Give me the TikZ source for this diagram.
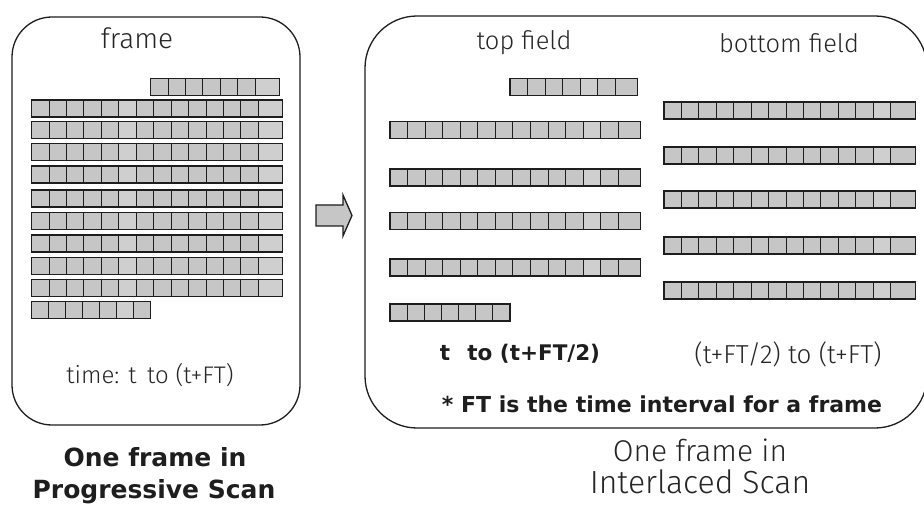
\documentclass[tikz,border=0pt]{standalone}
\usepackage{fontspec}
\setmainfont{DejaVu Sans}
\IfFontExistsTF{Fira Sans Light}
  {\newfontfamily\thinfont{Fira Sans Light}}
  {\newfontfamily\thinfont{Fira Sans}}

\definecolor{cellgray}{HTML}{C6C6C6}
\definecolor{plaingray}{HTML}{CFCFCF}
\definecolor{inkgray}{HTML}{1E1E1E}
\definecolor{thingray}{HTML}{262626}

\tikzset{
  cellbox/.style={draw=inkgray, line width=1pt, fill=cellgray},
  rowframe/.style={draw=inkgray, line width=1.4pt},
  framebox/.style={draw=inkgray, line width=1.3pt},
  thinlabel/.style={inner sep=0pt, text=thingray, font=\thinfont},
  boldlabel/.style={inner sep=0pt, text=inkgray, font=\bfseries},
  blockarrow/.style={draw=inkgray, line width=1.3pt, fill=cellgray, line join=miter},
}

% one row of scan-line cells:
% #1 left x, #2 cell width, #3 number of cells, #4 width of the last cell,
% #5 top y, #6 list of plain cells (0 for none)
\newcommand\cellrow[6]{%
  \foreach \k in {1,...,#3}{%
    \pgfmathsetmacro\xa{#1+(\k-1)*#2}%
    \pgfmathsetmacro\xb{\xa+(\k==#3 ? #4 : #2)}%
    \draw[cellbox] (\xa,#5) rectangle (\xb,#5+17);
  }%
  \foreach \p in {#6}{%
    \ifnum\p>0
      \pgfmathsetmacro\xa{#1+(\p-1)*#2}%
      \pgfmathsetmacro\xb{\xa+(\p==#3 ? #4 : #2)}%
      \draw[cellbox, fill=plaingray] (\xa,#5) rectangle (\xb,#5+17);
    \fi
  }%
  \pgfmathsetmacro\xe{#1+(#3-1)*#2+#4}%
  \draw[rowframe] (#1,#5) rectangle (\xe,#5+17);
}

\newcommand\thinsize[1]{\thinfont\fontsize{#1}{#1}\selectfont}
\newcommand\boldsize[1]{\bfseries\fontsize{#1}{#1}\selectfont}

\begin{document}
\begin{tikzpicture}[x=1pt, y=-1pt]
\useasboundingbox (0,0) rectangle (924,505);
\fill[white] (0,0) rectangle (924,505);

% ---------- progressive frame ----------
\draw[framebox, rounded corners=40pt] (12,17) rectangle (300,425);
\node[thinlabel, font=\thinsize{28}] (frame) at (137,38) {frame};

\cellrow{150.7}{17.43}{7}{24.4}{78.3}{7}
\foreach \y in {100,121.7,143.3,166,190,212.3,235,257.3,279.3}{
  \cellrow{31.7}{17.43}{14}{24.4}{\y}{6,14}
}
\cellrow{31.7}{17}{7}{17}{301.7}{6}

\node[thinlabel, font=\thinsize{24}] (ptime) at (150,375) {time: t\, to (t+FT)};

\node[boldlabel, font=\boldsize{25}] (pcap1) at (155,457) {One frame in};
\node[boldlabel, font=\boldsize{25}] (pcap2) at (154,492) {Progressive Scan};

% ---------- arrow between the two panels ----------
\draw[blockarrow] (316,205) -- (343,205) -- (343,195) -- (352,215.5)
  -- (343,236) -- (343,226) -- (316,226) -- cycle;

% ---------- interlaced frame ----------
\draw[framebox, rounded corners=52pt] (365,16) rectangle (927,428);

\node[thinlabel, font=\thinsize{25.5}] (top) at (524,43) {top field};
\node[thinlabel, font=\thinsize{25.5}] (bottom) at (789,43) {bottom field};

% top field
\cellrow{510}{17.56}{7}{22.4}{78.3}{5}
\foreach \y in {121.7,169,212.7,259}{
  \cellrow{390}{17.56}{14}{22.4}{\y}{12}
}
\cellrow{390}{17.14}{7}{17.14}{304}{0}

% bottom field
\foreach \y in {102,147,191,237,282}{
  \cellrow{664}{17.44}{14}{24.7}{\y}{13}
}

\node[boldlabel, font=\boldsize{21.5}] (ttop) at (520,354) {t\hspace{0.8em}to (t+FT/2)};
\node[thinlabel, font=\thinsize{26}] (tbottom) at (788,354) {(t+FT/2) to (t+FT)};
\node[boldlabel, font=\boldsize{22}] (note) at (662,404) {* FT is the time interval for a frame};

\node[thinlabel, font=\thinsize{30}] (icap1) at (700,450) {One frame in};
\node[thinlabel, font=\thinsize{32}] (icap2) at (700,482) {Interlaced Scan};
\end{tikzpicture}
\end{document}
